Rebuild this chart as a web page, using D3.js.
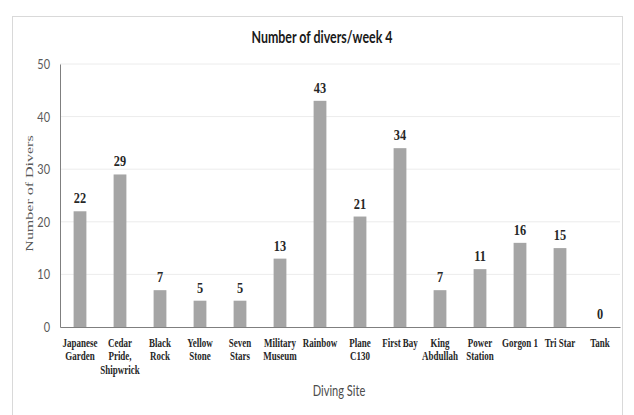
<!DOCTYPE html>
<html>
<head>
<meta charset="utf-8">
<script src="https://cdn.jsdelivr.net/npm/d3@7"></script>
<style>
  html, body { margin: 0; padding: 0; background: #fff; }
  svg { display: block; }
</style>
</head>
<body>
<svg id="chart" width="634" height="415"></svg>
<script>
// Diving sites (label lines) and weekly diver counts
const sites = [
  ["Japanese", "Garden"],
  ["Cedar", "Pride,", "Shipwrick"],
  ["Black", "Rock"],
  ["Yellow", "Stone"],
  ["Seven", "Stars"],
  ["Military", "Museum"],
  ["Rainbow"],
  ["Plane", "C130"],
  ["First Bay"],
  ["King", "Abdullah"],
  ["Power", "Station"],
  ["Gorgon 1"],
  ["Tri Star"],
  ["Tank"]
];
const divers = [22, 29, 7, 5, 5, 13, 43, 21, 34, 7, 11, 16, 15, 0];
const yTicks = [0, 10, 20, 30, 40, 50];

const svg = d3.select("#chart");
const W = 634, H = 415;
const margin = { left: 60, right: 14, top: 64, bottom: 88 };
const plotW = W - margin.left - margin.right;
const plotH = H - margin.top - margin.bottom;

const sansFont = "Lato, 'Open Sans', sans-serif";
const serifFont = "'Liberation Serif', 'DejaVu Serif', serif";
const narrow = 0.78; // horizontal squeeze applied to all lettering

// Chart panel frame
svg.append("rect")
  .attr("x", 12.5).attr("y", 16.5)
  .attr("width", 610).attr("height", 410)
  .attr("fill", "#fff")
  .attr("stroke", "#d9d9d9");

const g = svg.append("g").attr("transform", `translate(${margin.left},${margin.top})`);

const keys = divers.map((d, i) => i);
const x = d3.scaleBand().domain(keys).range([0, plotW]).paddingInner(0.68).paddingOuter(0.34);
const y = d3.scaleLinear().domain([0, 50]).range([plotH, 0]);

// Gridlines
g.append("g")
  .selectAll("line")
  .data(yTicks.filter(t => t > 0))
  .join("line")
  .attr("x1", 0).attr("x2", plotW)
  .attr("y1", d => y(d)).attr("y2", d => y(d))
  .attr("stroke", "#ececec").attr("stroke-width", 1);

// Y axis line and tick labels
const yAxis = g.append("g")
  .call(d3.axisLeft(y).tickValues(yTicks).tickSize(0).tickFormat(""));
yAxis.select(".domain").attr("stroke", "#7f7f7f");

g.append("g")
  .selectAll("text")
  .data(yTicks)
  .join("text")
  .attr("transform", d => `translate(-10,${y(d) + 5}) scale(${narrow},1)`)
  .attr("text-anchor", "end")
  .attr("font-family", sansFont)
  .attr("font-size", 14)
  .attr("fill", "#595959")
  .text(d => d);

// Bars
g.append("g")
  .selectAll("rect")
  .data(divers)
  .join("rect")
  .attr("x", (d, i) => x(i))
  .attr("y", d => y(d))
  .attr("width", x.bandwidth())
  .attr("height", d => plotH - y(d))
  .attr("fill", "#a5a5a5");

// Value labels
g.append("g")
  .selectAll("text")
  .data(divers)
  .join("text")
  .attr("transform", (d, i) => `translate(${x(i) + x.bandwidth() / 2},${y(d) - 8}) scale(0.88,1)`)
  .attr("text-anchor", "middle")
  .attr("font-family", serifFont)
  .attr("font-weight", "bold")
  .attr("font-size", 14)
  .attr("fill", "#262626")
  .text(d => d);

// X axis baseline
const xAxis = g.append("g")
  .attr("transform", `translate(0,${plotH})`)
  .call(d3.axisBottom(x).tickSize(0).tickFormat(""));
xAxis.select(".domain").attr("stroke", "#7f7f7f");

// Category labels (multi-line)
const cat = g.append("g")
  .selectAll("text")
  .data(sites)
  .join("text")
  .attr("transform", (d, i) => `translate(${x(i) + x.bandwidth() / 2},${plotH + 20}) scale(${narrow},1)`)
  .attr("text-anchor", "middle")
  .attr("font-family", serifFont)
  .attr("font-weight", "bold")
  .attr("font-size", 11.5)
  .attr("fill", "#262626");
cat.each(function(lines) {
  const t = d3.select(this);
  lines.forEach((ln, k) => {
    t.append("tspan")
      .attr("x", 0)
      .attr("dy", k === 0 ? 0 : 13.5)
      .text(ln);
  });
});

// Title
svg.append("text")
  .attr("transform", "translate(322,43) scale(0.73,1)")
  .attr("text-anchor", "middle")
  .attr("font-family", sansFont)
  .attr("font-weight", "bold")
  .attr("font-size", 17)
  .attr("fill", "#1a1a1a")
  .text("Number of divers/week 4");

// Axis titles
svg.append("text")
  .attr("transform", `translate(33,${margin.top + plotH / 2 - 2}) scale(0.66,1) rotate(-90)`)
  .attr("text-anchor", "middle")
  .attr("font-family", serifFont)
  .attr("font-size", 16)
  .attr("fill", "#595959")
  .text("Number of Divers");

svg.append("text")
  .attr("transform", "translate(339,396) scale(0.74,1)")
  .attr("text-anchor", "middle")
  .attr("font-family", sansFont)
  .attr("font-size", 15)
  .attr("fill", "#4d4d4d")
  .text("Diving Site");
</script>
</body>
</html>
